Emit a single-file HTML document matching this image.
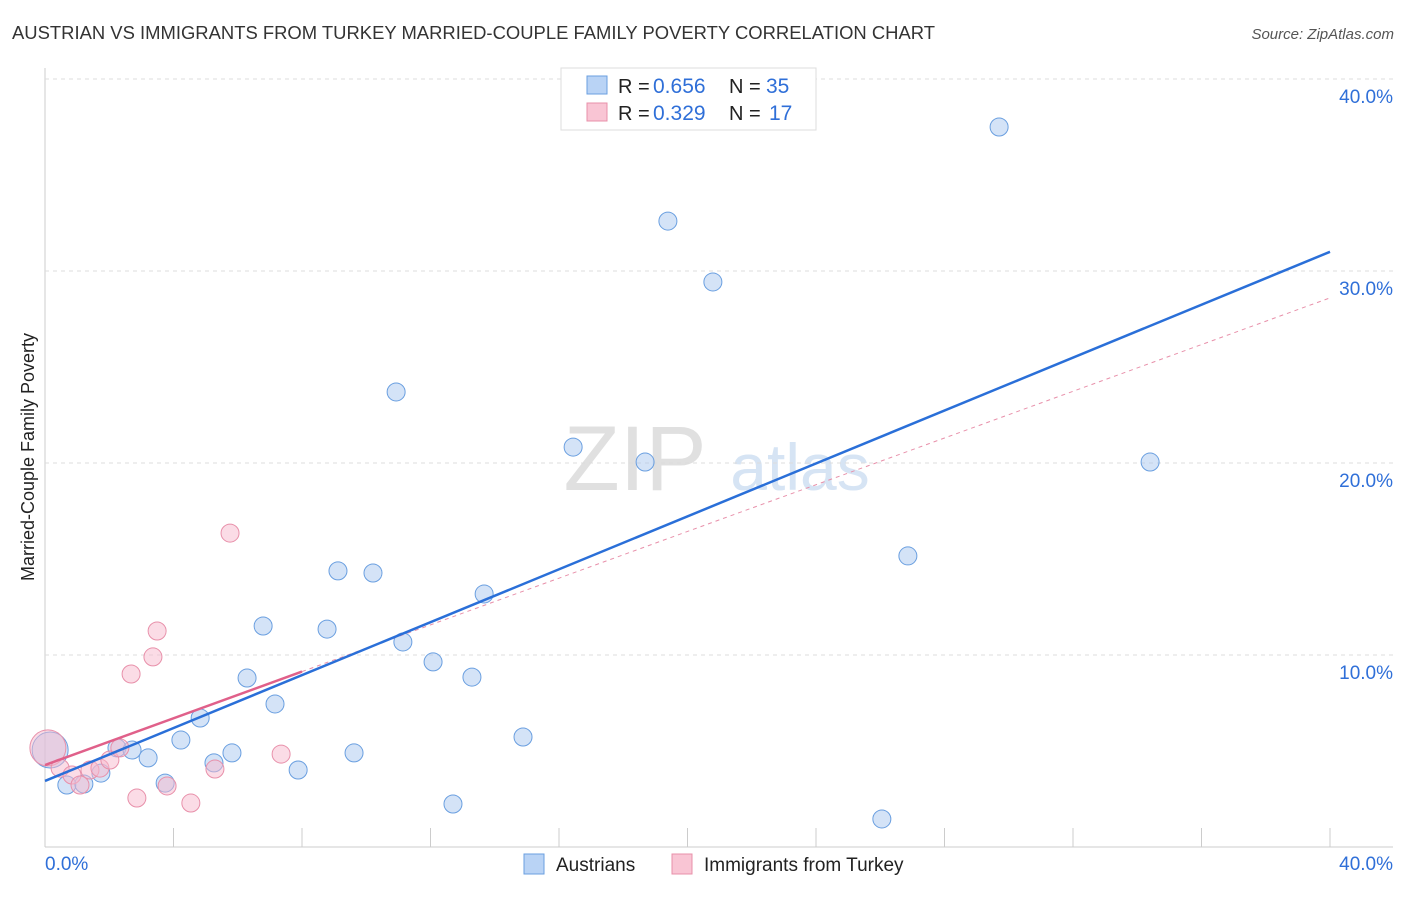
<!DOCTYPE html>
<html><head><meta charset="utf-8"><style>
body{margin:0;background:#fff;font-family:"Liberation Sans",sans-serif}
svg text{font-family:"Liberation Sans",sans-serif}
</style></head><body>
<svg id="c" width="1406" height="892" xmlns="http://www.w3.org/2000/svg">
<text x="12" y="39" font-size="18" fill="#333" textLength="923" lengthAdjust="spacingAndGlyphs">AUSTRIAN VS IMMIGRANTS FROM TURKEY MARRIED-COUPLE FAMILY POVERTY CORRELATION CHART</text>
<text x="1394" y="39" font-size="15" fill="#555" font-style="italic" text-anchor="end">Source: ZipAtlas.com</text>
<text x="635" y="490" font-size="92" fill="#e0e0e0" font-family="Liberation Serif" text-anchor="middle">ZIP</text>
<text x="800" y="490" font-size="66" fill="#d6e4f4" text-anchor="middle">atlas</text>
<text transform="translate(34,457) rotate(-90)" font-size="18" fill="#222" text-anchor="middle">Married-Couple Family Poverty</text>
<g id="grid"></g><g id="marks"></g>
<g>
<rect x="561" y="68" width="255" height="62" fill="#fff" stroke="#ddd"/>
<rect x="587" y="76" width="20" height="18" fill="#b9d3f5" stroke="#6a9fe0"/>
<rect x="587" y="103" width="20" height="18" fill="#f9c5d4" stroke="#e890aa"/>
<text x="618" y="93" font-size="20" fill="#222">R =</text>
<text x="653" y="93" font-size="21" fill="#2f6fd8">0.656</text>
<text x="729" y="93" font-size="20" fill="#222">N =</text>
<text x="766" y="93" font-size="21" fill="#2f6fd8">35</text>
<text x="618" y="120" font-size="20" fill="#222">R =</text>
<text x="653" y="120" font-size="21" fill="#2f6fd8">0.329</text>
<text x="729" y="120" font-size="20" fill="#222">N =</text>
<text x="769" y="120" font-size="21" fill="#2f6fd8">17</text>
</g>
<g>
<rect x="524" y="854" width="20" height="20" fill="#b9d3f5" stroke="#6a9fe0"/>
<text x="556" y="871" font-size="19" fill="#222">Austrians</text>
<rect x="672" y="854" width="20" height="20" fill="#f9c5d4" stroke="#e890aa"/>
<text x="704" y="871" font-size="19" fill="#222">Immigrants from Turkey</text>
</g>
</svg>
<script>
const blueX=[0.16,0.68,1.21,1.74,2.24,2.71,3.21,3.74,4.23,4.83,5.26,5.82,6.29,6.79,7.16,7.88,8.78,9.12,9.62,10.21,10.93,11.14,12.08,12.70,13.29,13.67,14.88,16.44,18.68,19.39,20.79,26.05,26.86,29.70,34.40];
const blueY=[5.05,3.23,3.28,3.85,5.16,5.05,4.64,3.33,5.57,6.72,4.38,4.90,8.80,11.51,7.45,4.01,11.35,14.38,4.90,14.27,23.70,10.68,9.64,2.24,8.85,13.18,5.73,20.83,20.05,32.60,29.43,1.46,15.16,37.50,20.05];
const pinkX=[0.09,0.47,0.84,1.09,1.40,1.71,2.02,2.33,2.68,2.86,3.36,3.49,3.80,4.54,5.29,5.76,7.35];
const pinkY=[5.16,4.11,3.75,3.23,4.01,4.11,4.53,5.16,9.01,2.55,9.90,11.25,3.18,2.29,4.06,16.35,4.84];
const blueTrend=[3.44,31.0];
const pinkTrend=[4.27,28.6];
const yTicks=[10,20,30,40];
const yTickLabels=["10.0%","20.0%","30.0%","40.0%"];
const xTicks=[0,4,8,12,16,20,24,28,32,36,40];
const NS="http://www.w3.org/2000/svg";
const sx=v=>45+v*32.125, sy=v=>847-v*19.2;
function el(t,a,p){const e=document.createElementNS(NS,t);for(const k in a)e.setAttribute(k,a[k]);p.appendChild(e);return e;}
const g=document.getElementById('grid'), m=document.getElementById('marks');
el('line',{x1:45,y1:68,x2:45,y2:847,stroke:'#ccc'},g);
el('line',{x1:45,y1:847,x2:1393,y2:847,stroke:'#ccc'},g);
yTicks.forEach((t,i)=>{
 const l=el('line',{x1:45,y1:sy(t),x2:1393,y2:sy(t),stroke:'#ddd','stroke-dasharray':'4,4'},g);
 
 
 const tx=el('text',{x:1393,y:sy(t)+24,'font-size':19,fill:'#2f6fd8','text-anchor':'end'},g);
 tx.textContent=yTickLabels[i];
 
 
});
xTicks.forEach(t=>{
 const l=el('line',{x1:sx(t),y1:828,x2:sx(t),y2:847,stroke:'#ccc'},g);
 
 
});
let t0=el('text',{x:45,y:870,'font-size':19,fill:'#2f6fd8'},g);t0.textContent='0.0%';


let t1=el('text',{x:1393,y:870,'font-size':19,fill:'#2f6fd8','text-anchor':'end'},g);t1.textContent='40.0%';


function pts(X,Y,fill,stroke,name){X.forEach((x,i)=>{
 const r=(x<0.3)?18:9;
 const c=el('circle',{cx:sx(x),cy:sy(Y[i]),r:r,fill:fill,stroke:stroke,'stroke-width':1},m);
 
 
});}
pts(blueX,blueY,'rgba(170,200,240,0.5)','#6a9fe0','austrian-point');
pts(pinkX,pinkY,'rgba(248,185,205,0.5)','#e890aa','turkey-point');
const pd=el('line',{x1:sx(8),y1:sy(pinkTrend[0]+(pinkTrend[1]-pinkTrend[0])*8/40),x2:sx(40),y2:sy(pinkTrend[1]),stroke:'#e890aa','stroke-dasharray':'4,4','stroke-width':1},m);


const bl=el('line',{x1:sx(0),y1:sy(blueTrend[0]),x2:sx(40),y2:sy(blueTrend[1]),stroke:'#2a6fd8','stroke-width':2.5},m);


const pl=el('line',{x1:sx(0),y1:sy(pinkTrend[0]),x2:sx(8),y2:sy(pinkTrend[0]+(pinkTrend[1]-pinkTrend[0])*8/40),stroke:'#e0608a','stroke-width':2.5},m);


</script>
</body></html>
